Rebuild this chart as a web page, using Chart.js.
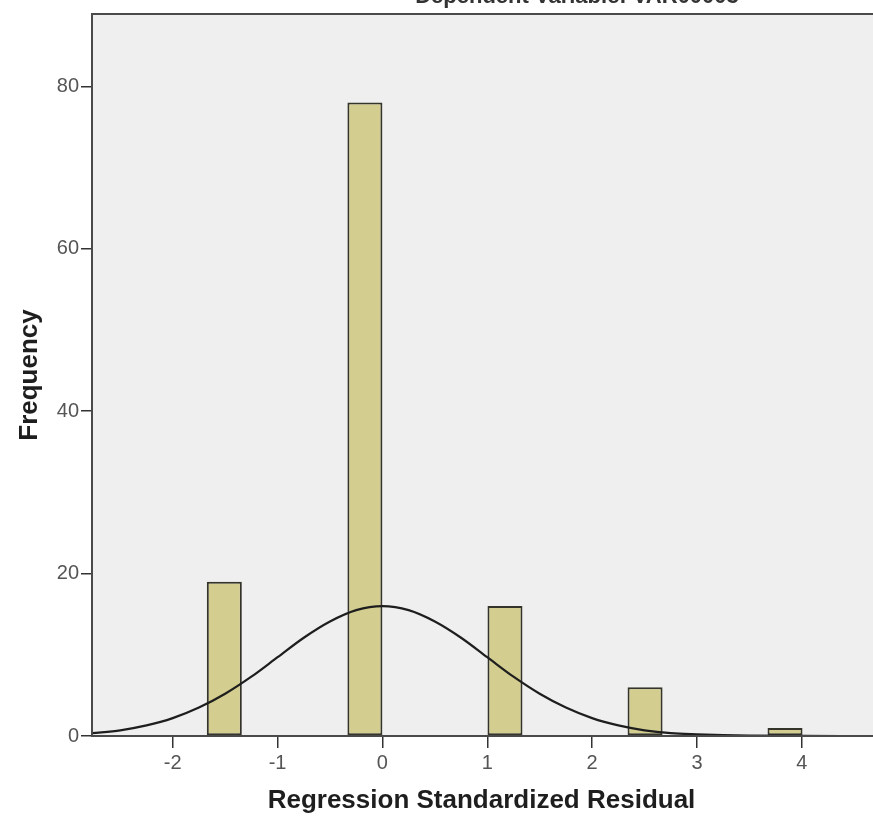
<!DOCTYPE html>
<html lang="en">
<head>
  <meta charset="UTF-8" />
  <title>Histogram - Regression Standardized Residual</title>
  <script src="https://cdn.jsdelivr.net/npm/chart.js"></script>
  <style>
    body {
      margin: 0;
      background: #ffffff;
      overflow: hidden;
      width: 873px;
      height: 823px;
      position: relative;
    }

    .chart-wrap {
      position: absolute;
      left: 0;
      top: -30px;
      width: 900px;
      height: 853px;
    }
  </style>
</head>
<body>
  <div class="chart-wrap">
    <canvas id="histChart"></canvas>
  </div>

  <script>
    // histogram bins (centre of each non-empty bin) and their counts
    const binCenters = [-1.508, -0.167, 1.169, 2.505, 3.84];
    const counts = [19, 78, 16, 6, 1];

    // normal curve
    const curveX = [-2.77, -2.5, -2.25, -2, -1.75, -1.5, -1.25, -1, -0.75, -0.5, -0.25, 0, 0.25, 0.5, 0.75, 1, 1.25, 1.5, 1.75, 2, 2.25, 2.5, 2.75, 3, 3.25, 3.5, 4, 4.66];
    const curveY = [0.35, 0.7, 1.3, 2.2, 3.5, 5.2, 7.3, 9.7, 12.1, 14.1, 15.5, 16, 15.5, 14.1, 12.1, 9.7, 7.3, 5.2, 3.5, 2.2, 1.3, 0.7, 0.35, 0.2, 0.1, 0.05, 0.01, 0];

    const xTicks = [-2, -1, 0, 1, 2, 3, 4];
    const yTicks = [0, 20, 40, 60, 80];

    const titleText = "Dependent Variable: VAR00003";
    const xTitle = "Regression Standardized Residual";
    const yTitle = "Frequency";

    const fontFamily = "'Liberation Sans', Arial, sans-serif";

    // grey plot background + frame (runs past the right edge), and the cut off title
    const plotFrame = {
      id: "plotFrame",
      beforeDatasetsDraw(chart) {
        const { ctx, chartArea: a, width } = chart;
        ctx.save();
        ctx.fillStyle = "#efefef";
        ctx.fillRect(a.left, a.top, width - a.left, a.bottom - a.top);
        ctx.restore();
      },
      afterDraw(chart) {
        const { ctx, chartArea: a, width } = chart;
        ctx.save();
        ctx.strokeStyle = "#4a4a4a";
        ctx.lineWidth = 2;
        ctx.beginPath();
        ctx.moveTo(width, a.top);
        ctx.lineTo(a.left, a.top);
        ctx.lineTo(a.left, a.bottom);
        ctx.lineTo(width, a.bottom);
        ctx.stroke();
        ctx.fillStyle = "#333";
        ctx.font = "bold 22px " + fontFamily;
        ctx.textAlign = "center";
        ctx.textBaseline = "alphabetic";
        ctx.fillText(titleText, 577, 33);
        ctx.restore();
      }
    };

    new Chart(document.getElementById("histChart"), {
      type: "bar",
      data: {
        datasets: [
          {
            type: "line",
            label: "Normal",
            data: curveX.map((x, i) => ({ x: x, y: curveY[i] })),
            borderColor: "#1e1e1e",
            borderWidth: 2.2,
            pointRadius: 0,
            cubicInterpolationMode: "monotone",
            fill: false,
            order: 0
          },
          {
            type: "bar",
            label: "Frequency",
            data: binCenters.map((x, i) => ({ x: x, y: counts[i] })),
            backgroundColor: "#d3ce8f",
            borderColor: "#35342a",
            borderWidth: 2,
            borderSkipped: false,
            barPercentage: 0.334,
            categoryPercentage: 1,
            order: 1
          }
        ]
      },
      options: {
        responsive: true,
        maintainAspectRatio: false,
        animation: false,
        layout: { padding: { top: 44, right: 29, left: 0, bottom: 0 } },
        plugins: {
          legend: { display: false },
          tooltip: { enabled: false }
        },
        scales: {
          x: {
            type: "linear",
            min: -2.77,
            max: 4.66,
            offset: false,
            afterBuildTicks: (scale) => { scale.ticks = xTicks.map(v => ({ value: v })); },
            afterFit: (scale) => { scale.height = 87; },
            grid: {
              offset: false,
              drawOnChartArea: false,
              drawTicks: true,
              tickLength: 12,
              color: "#333",
              lineWidth: 1.5
            },
            border: { color: "#4a4a4a", width: 2 },
            ticks: {
              color: "#555",
              font: { family: fontFamily, size: 20 },
              padding: 3,
              maxRotation: 0
            },
            title: {
              display: true,
              text: xTitle,
              color: "#1e1e1e",
              font: { family: fontFamily, size: 26, weight: "bold" },
              padding: { top: 0, bottom: 7 }
            }
          },
          y: {
            min: 0,
            max: 88.9,
            afterBuildTicks: (scale) => { scale.ticks = yTicks.map(v => ({ value: v })); },
            afterFit: (scale) => { scale.width = 92; },
            grid: {
              drawOnChartArea: false,
              drawTicks: true,
              tickLength: 11,
              color: "#333",
              lineWidth: 1.5
            },
            border: { color: "#4a4a4a", width: 2 },
            ticks: {
              color: "#555",
              font: { family: fontFamily, size: 20 },
              padding: 2
            },
            title: {
              display: true,
              text: yTitle,
              color: "#1e1e1e",
              font: { family: fontFamily, size: 26, weight: "bold" },
              padding: { top: 14, bottom: 0 }
            }
          }
        }
      },
      plugins: [plotFrame]
    });
  </script>
</body>
</html>
